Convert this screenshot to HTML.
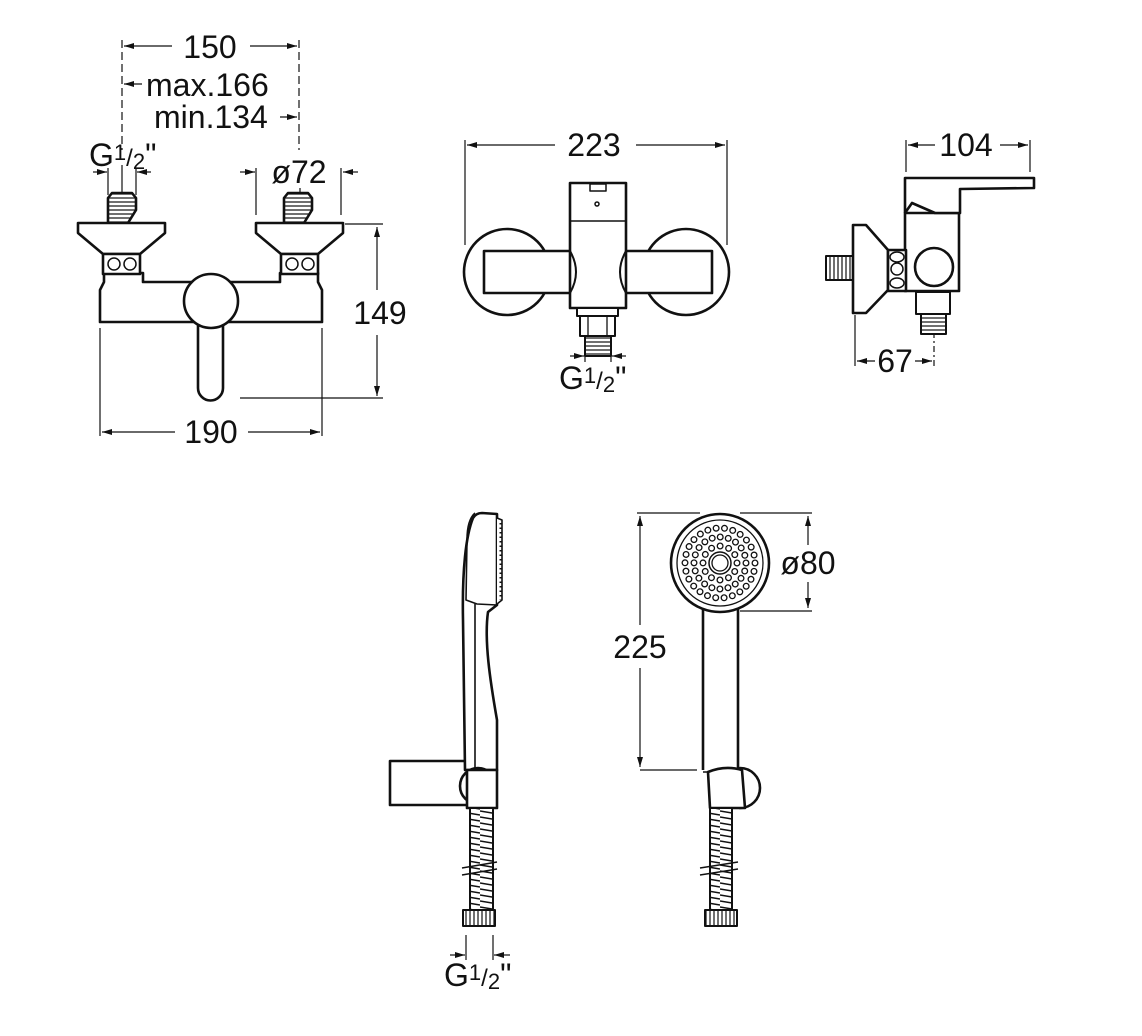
<!DOCTYPE html>
<html><head><meta charset="utf-8"><style>
html,body{margin:0;padding:0;background:#fff}
svg{display:block}
text{font-family:"Liberation Sans",Arial,sans-serif;fill:#111}
</style></head><body>
<svg width="1142" height="1036" viewBox="0 0 1142 1036" xmlns="http://www.w3.org/2000/svg">
<defs>
<marker id="a" viewBox="0 0 10 6" refX="10" refY="3" markerWidth="12" markerHeight="6" markerUnits="userSpaceOnUse" orient="auto-start-reverse"><path d="M0,0 L10,3 L0,6 z" fill="#111"/></marker>
<pattern id="thr" width="6" height="4" patternUnits="userSpaceOnUse"><rect width="6" height="4" fill="#fff"/><line x1="0" y1="2" x2="6" y2="2" stroke="#111" stroke-width="1.2"/></pattern>
<pattern id="thv" width="4" height="6" patternUnits="userSpaceOnUse"><rect width="4" height="6" fill="#fff"/><line x1="2" y1="0" x2="2" y2="6" stroke="#111" stroke-width="1.2"/></pattern>
<pattern id="hose" width="24" height="6" patternUnits="userSpaceOnUse"><rect width="24" height="6" fill="#fff"/><line x1="0" y1="1" x2="24" y2="5" stroke="#111" stroke-width="1.6"/></pattern>
</defs>
<g fill="none" stroke="#111" stroke-width="1.2">
<line x1="122" y1="40" x2="122" y2="150" stroke-dasharray="8 4"/>
<line x1="299" y1="40" x2="299" y2="150" stroke-dasharray="8 4"/>
<line x1="172" y1="46" x2="124" y2="46" marker-end="url(#a)"/>
<line x1="250" y1="46" x2="297" y2="46" marker-end="url(#a)"/>
<line x1="142" y1="84" x2="124" y2="84" marker-end="url(#a)"/>
<line x1="280" y1="117" x2="297" y2="117" marker-end="url(#a)"/>
<line x1="93" y1="172" x2="107" y2="172" marker-end="url(#a)"/>
<line x1="151" y1="172" x2="137" y2="172" marker-end="url(#a)"/>
<line x1="108" y1="168" x2="108" y2="195"/>
<line x1="122" y1="165" x2="122" y2="230"/>
<line x1="136" y1="168" x2="136" y2="195"/>
<line x1="240" y1="172" x2="255" y2="172" marker-end="url(#a)"/>
<line x1="358" y1="172" x2="343" y2="172" marker-end="url(#a)"/>
<line x1="256" y1="168" x2="256" y2="215"/>
<line x1="341" y1="168" x2="341" y2="215"/>
<line x1="300" y1="188" x2="300" y2="230"/>
<line x1="345" y1="224" x2="383" y2="224"/>
<line x1="240" y1="398" x2="383" y2="398"/>
<line x1="377" y1="290" x2="377" y2="227" marker-end="url(#a)"/>
<line x1="377" y1="335" x2="377" y2="396" marker-end="url(#a)"/>
<line x1="100" y1="328" x2="100" y2="436"/>
<line x1="322" y1="328" x2="322" y2="436"/>
<line x1="175" y1="432" x2="102" y2="432" marker-end="url(#a)"/>
<line x1="248" y1="432" x2="320" y2="432" marker-end="url(#a)"/>
</g>
<g stroke="#111" stroke-width="2.6" fill="#fff" stroke-linejoin="round">
<path d="M108,223 L108,198 L112,193 L132,193 L136,198 L136,210 L128,223 z" fill="url(#thr)"/>
<path d="M284,223 L284,198 L288,193 L308,193 L312,198 L312,210 L304,223 z" fill="url(#thr)"/>
<path d="M100,322 L100,290 L104,282 L104,273 L143,273 L143,282 L280,282 L280,273 L318,273 L318,282 L322,290 L322,322 z"/>
<path d="M78,223 L165,223 L165,233 L140,254 L103,254 L78,233 z"/>
<path d="M256,223 L343,223 L343,233 L318,254 L281,254 L256,233 z"/>
<rect x="103" y="254" width="37" height="20"/>
<rect x="281" y="254" width="37" height="20"/>
<circle cx="114" cy="264" r="6" stroke-width="1.5"/><circle cx="130" cy="264" r="6" stroke-width="1.5"/>
<circle cx="292" cy="264" r="6" stroke-width="1.5"/><circle cx="308" cy="264" r="6" stroke-width="1.5"/>
<path d="M198,310 L198,388 A12.5,12.5 0 0 0 223,388 L223,310"/>
<circle cx="211" cy="301" r="27"/>
</g>
<g font-size="32">
<text x="210" y="58" text-anchor="middle">150</text>
<text x="146" y="96">max.166</text>
<text x="154" y="128">min.134</text>
<text x="89" y="166">G<tspan font-size="22" dy="-6">1</tspan><tspan font-size="24" dy="6">/</tspan><tspan font-size="22" dy="3">2</tspan><tspan dy="-3">"</tspan></text>
<text x="299" y="183" text-anchor="middle">ø72</text>
<text x="380" y="324" text-anchor="middle">149</text>
<text x="211" y="443" text-anchor="middle">190</text>
</g>

<g fill="none" stroke="#111" stroke-width="1.2">
<line x1="465" y1="140" x2="465" y2="245"/>
<line x1="727" y1="140" x2="727" y2="245"/>
<line x1="555" y1="145" x2="467" y2="145" marker-end="url(#a)"/>
<line x1="636" y1="145" x2="725" y2="145" marker-end="url(#a)"/>
<line x1="585" y1="338" x2="585" y2="362"/>
<line x1="611" y1="338" x2="611" y2="362"/>
<line x1="570" y1="356" x2="584" y2="356" marker-end="url(#a)"/>
<line x1="626" y1="356" x2="612" y2="356" marker-end="url(#a)"/>
</g>
<g stroke="#111" stroke-width="2.6" fill="#fff" stroke-linejoin="round">
<circle cx="507" cy="272" r="43"/>
<circle cx="686" cy="272" r="43"/>
<rect x="484" y="251" width="228" height="42"/>
<path d="M570,308 L570,183 L626,183 L626,308 z"/>
<path d="M570,251 Q582,272 570,293" fill="none" stroke-width="2"/>
<path d="M626,251 Q614,272 626,293" fill="none" stroke-width="2"/>
<line x1="570" y1="221" x2="626" y2="221" stroke-width="1.5"/>
<rect x="590" y="184" width="16" height="7" stroke-width="1.5"/>
<circle cx="597" cy="204" r="2" stroke-width="1.5"/>
<rect x="577" y="308" width="41" height="8" stroke-width="2"/>
<rect x="580" y="316" width="35" height="20" stroke-width="2"/>
<line x1="588" y1="316" x2="588" y2="336" stroke-width="1.3"/><line x1="607" y1="316" x2="607" y2="336" stroke-width="1.3"/>
<rect x="585" y="336" width="26" height="20" fill="url(#thr)" stroke-width="2"/>
</g>
<g font-size="32">
<text x="594" y="156" text-anchor="middle">223</text>
<text x="559" y="389">G<tspan font-size="22" dy="-6">1</tspan><tspan font-size="24" dy="6">/</tspan><tspan font-size="22" dy="3">2</tspan><tspan dy="-3">"</tspan></text>
</g>

<g fill="none" stroke="#111" stroke-width="1.2">
<line x1="906" y1="140" x2="906" y2="172"/>
<line x1="1030" y1="140" x2="1030" y2="172"/>
<line x1="935" y1="145" x2="908" y2="145" marker-end="url(#a)"/>
<line x1="1000" y1="145" x2="1028" y2="145" marker-end="url(#a)"/>
<line x1="855" y1="315" x2="855" y2="366"/>
<line x1="934" y1="290" x2="934" y2="366" stroke-dasharray="6 3 2 3"/>
<line x1="875" y1="361" x2="857" y2="361" marker-end="url(#a)"/>
<line x1="915" y1="361" x2="932" y2="361" marker-end="url(#a)"/>
</g>
<g stroke="#111" stroke-width="2.6" fill="#fff" stroke-linejoin="round">
<rect x="905" y="213" width="54" height="78"/>
<path d="M905,213 L905,178 L1034,178 L1034,188 L960,189 L960,213 L935,213 L912,203 L905,213" />
<rect x="826" y="256" width="28" height="24" fill="url(#thv)" stroke-width="2"/>
<path d="M853,225 L866,225 L888,250 L888,290 L866,313 L853,313 z"/>
<rect x="888" y="250" width="18" height="41"/>
<ellipse cx="897" cy="257" rx="7" ry="5" stroke-width="1.5"/><circle cx="897" cy="269" r="6" stroke-width="1.5"/><ellipse cx="897" cy="283" rx="7" ry="5" stroke-width="1.5"/>
<circle cx="934" cy="267" r="19"/>
<rect x="916" y="292" width="34" height="22" stroke-width="2"/>
<rect x="921" y="314" width="25" height="20" fill="url(#thr)" stroke-width="2"/>
</g>
<g font-size="32">
<text x="966" y="156" text-anchor="middle">104</text>
<text x="895" y="372" text-anchor="middle">67</text>
</g>

<g stroke="#111" stroke-width="2.6" fill="#fff" stroke-linejoin="round">
<rect x="390" y="761" width="80" height="44"/>
<path d="M465,770 L463,620 C462,570 466,535 473,518 Q476,513 482,513 L497,514 L497,605 L488,612 C484,640 490,680 497,720 L497,770 z"/>
<path d="M475,513 Q467,520 467,540 L466,600 L477,604 L497,605" fill="none" stroke-width="1.6"/>
<path d="M475,604 L475,770" fill="none" stroke-width="1.6"/>
<path d="M497,518 L502,520 L502,600 L497,604" stroke-width="1.6"/>
<line x1="501" y1="523" x2="501" y2="600" stroke-width="3" stroke-dasharray="1.5 3"/>
<circle cx="478" cy="786" r="18"/>
<rect x="467" y="770" width="30" height="38"/>
<rect x="470" y="808" width="23" height="102" fill="url(#hose)" stroke-width="2"/>
<rect x="463" y="910" width="32" height="16" fill="url(#thv)" stroke-width="2"/>
<path d="M462,868 L497,862 M462,875 L497,869" fill="none" stroke-width="1.5"/>
</g>
<g fill="none" stroke="#111" stroke-width="1.2">
<line x1="466" y1="935" x2="466" y2="960"/>
<line x1="493" y1="935" x2="493" y2="960"/>
<line x1="450" y1="955" x2="465" y2="955" marker-end="url(#a)"/>
<line x1="510" y1="955" x2="494" y2="955" marker-end="url(#a)"/>
</g>
<text x="444" y="986" font-size="32">G<tspan font-size="22" dy="-6">1</tspan><tspan font-size="24" dy="6">/</tspan><tspan font-size="22" dy="3">2</tspan><tspan dy="-3">"</tspan></text>

<g fill="none" stroke="#111" stroke-width="1.2">
<line x1="637" y1="513" x2="700" y2="513"/>
<line x1="740" y1="513" x2="812" y2="513"/>
<line x1="740" y1="611" x2="812" y2="611"/>
<line x1="640" y1="770" x2="697" y2="770"/>
<line x1="640" y1="625" x2="640" y2="516" marker-end="url(#a)"/>
<line x1="640" y1="668" x2="640" y2="767" marker-end="url(#a)"/>
<line x1="808" y1="545" x2="808" y2="516" marker-end="url(#a)"/>
<line x1="808" y1="582" x2="808" y2="608" marker-end="url(#a)"/>
</g>
<g stroke="#111" stroke-width="2.6" fill="#fff" stroke-linejoin="round">
<path d="M703,770 L703,600 L738,600 L738,770" fill="none"/>
<circle cx="720" cy="563" r="49"/>
<circle cx="720" cy="563" r="43" stroke-width="1.3"/>
<circle cx="720" cy="563" r="11" stroke-width="1.5"/>
<circle cx="720" cy="563" r="8" stroke-width="1.3"/>
<circle cx="720" cy="563" r="17" stroke-width="7" stroke-dasharray="0 8.9" stroke-linecap="round" fill="none"/>
<circle cx="720" cy="563" r="17" stroke="#fff" stroke-width="4.4" stroke-dasharray="0 8.9" stroke-linecap="round" fill="none"/>
<circle cx="720" cy="563" r="26" stroke-width="7" stroke-dasharray="0 8.17" stroke-linecap="round" fill="none"/>
<circle cx="720" cy="563" r="26" stroke="#fff" stroke-width="4.4" stroke-dasharray="0 8.17" stroke-linecap="round" fill="none"/>
<circle cx="720" cy="563" r="35" stroke-width="7" stroke-dasharray="0 8.46" stroke-linecap="round" fill="none"/>
<circle cx="720" cy="563" r="35" stroke="#fff" stroke-width="4.4" stroke-dasharray="0 8.46" stroke-linecap="round" fill="none"/>
<path d="M740,768 A20,20 0 0 1 740,808 z"/>
<path d="M708,772 Q725,765 742,770 L745,808 L710,808 z"/>
<path d="M703,772 L708,772 L710,808" fill="none" stroke-width="1.6"/>
<rect x="710" y="808" width="22" height="102" fill="url(#hose)" stroke-width="2"/>
<rect x="705" y="910" width="32" height="16" fill="url(#thv)" stroke-width="2"/>
<path d="M700,868 L738,862 M700,875 L738,869" fill="none" stroke-width="1.5"/>
</g>
<g font-size="32">
<text x="640" y="658" text-anchor="middle">225</text>
<text x="808" y="574" text-anchor="middle">ø80</text>
</g>
</svg>
</body></html>
